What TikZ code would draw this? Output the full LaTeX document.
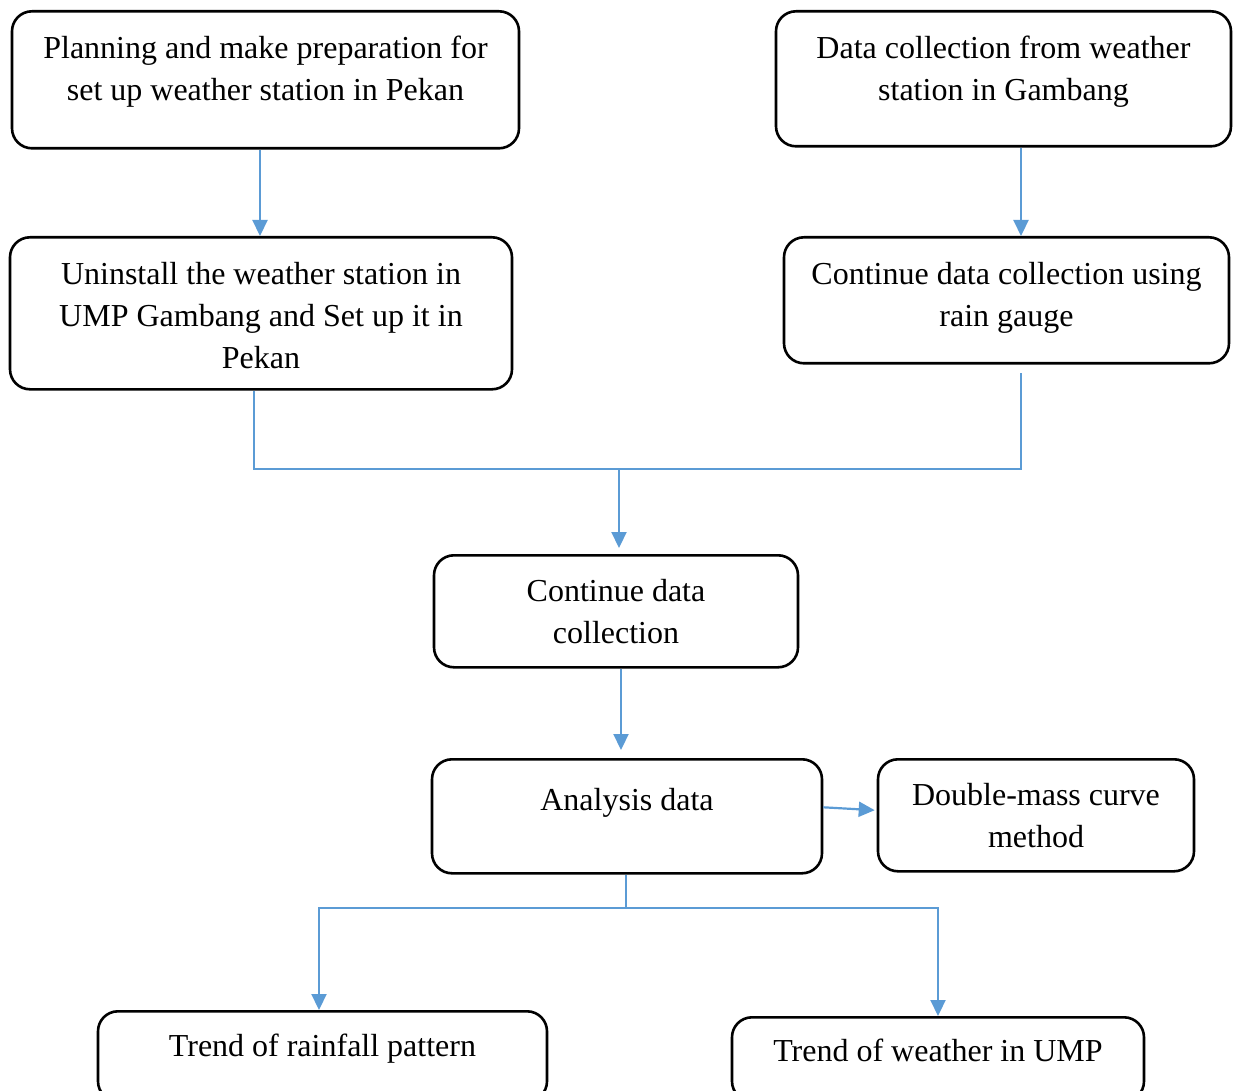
\documentclass[tikz,border=0pt]{standalone}
\usepackage{fontspec}
\setmainfont{Liberation Serif}
\usetikzlibrary{arrows.meta,positioning,calc}
\definecolor{flowblue}{HTML}{5B9BD5}

\begin{document}
\begin{tikzpicture}[
  x=1pt, y=1pt,
  stage/.style={draw=black, line width=2.6pt, rounded corners=20pt, anchor=north, align=flush center, inner xsep=0pt, inner ysep=0pt, font=\fontsize{32}{42}\selectfont, text height=47pt},
  link/.style={line width=2.2pt, draw=flowblue},
  arrow/.style={link, -{Triangle[length=16pt,width=15pt]}}
]
\useasboundingbox (0,0) rectangle (1240,-1091);

\node[stage, text width=507pt, text depth=90pt] (planning) at (265.5,-10) {Planning and make preparation for\\set up weather station in Pekan};
\node[stage, text width=455pt, text depth=88pt] (gambang) at (1003.5,-10) {Data collection from weather\\station in Gambang};
\node[stage, text width=502pt, text depth=105pt] (uninstall) at (261,-236) {Uninstall the weather station in\\UMP Gambang and Set up it in\\Pekan};
\node[stage, text width=445pt, text depth=79pt] (raingauge) at (1006.5,-236) {Continue data collection using\\rain gauge};
\node[stage, text width=364pt, text height=46pt, text depth=66pt] (continue) at (616,-554) {Continue data\\collection};
\node[stage, text width=390pt, text height=51pt, text depth=63pt] (analysis) at (627,-758) {Analysis data};
\node[stage, text width=316pt, text height=46pt, text depth=66pt] (doublemass) at (1036,-758) {Double-mass curve\\method};
\node[stage, text width=449pt, text height=45pt, text depth=45pt] (rainfall) at (322.5,-1010) {Trend of rainfall pattern};
\node[stage, text width=412pt, text height=44pt, text depth=40pt] (weather) at (938,-1016) {Trend of weather in UMP};

\coordinate (merge) at (619,-469);
\coordinate (split) at (626,-908);

\draw[arrow] ([xshift=-5.5pt]planning.south) -- ([xshift=-1pt]uninstall.north);
\draw[arrow] ([xshift=17.5pt]gambang.south) -- ([xshift=14.5pt]raingauge.north);
\draw[link] ([xshift=-7pt]uninstall.south) |- (merge) -| ([xshift=14.5pt,yshift=-8pt]raingauge.south);
\draw[arrow, shorten >=6pt] (merge) -- (merge |- continue.north);
\draw[arrow, shorten >=8pt] ([xshift=5pt]continue.south) -- ([xshift=-6pt]analysis.north);
\draw[arrow, shorten >=2pt] ([yshift=9pt]analysis.east) -- ([yshift=5pt]doublemass.west);
\draw[link] ([xshift=-1pt]analysis.south) -- (split);
\draw[arrow] (split) -| ([xshift=-3.5pt]rainfall.north);
\draw[arrow] (split) -| (weather.north);
\end{tikzpicture}
\end{document}
